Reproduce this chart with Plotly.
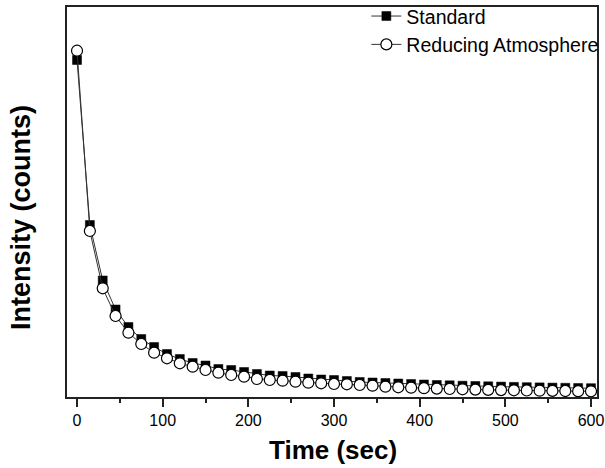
import plotly.graph_objects as go

time_sec = [0, 15, 30, 45, 60, 75, 90, 105, 120, 135, 150, 165, 180, 195, 210, 225,
            240, 255, 270, 285, 300, 315, 330, 345, 360, 375, 390, 405, 420, 435,
            450, 465, 480, 495, 510, 525, 540, 555, 570, 585, 600]

standard = [337, 172, 116.5, 87.5, 70, 58, 50, 43, 38, 34, 31.5, 28, 27, 25, 23, 21.5,
            21, 20, 18.5, 17.5, 17, 16, 15, 14.5, 14, 13.5, 13, 12.5, 12, 11.7,
            11.3, 11, 10.7, 10.4, 10.1, 9.8, 9.6, 9.4, 9.2, 9.0, 8.8]

reducing = [346.3, 166, 108.7, 81, 64.3, 53, 44.3, 38.7, 33.7, 30.3, 27, 24.3, 22, 20.3, 18, 17,
            16.3, 15.3, 14.3, 13.7, 13, 12.7, 12, 11.3, 10.3, 9.7, 9.3, 8.8, 8.4, 8.0,
            7.7, 7.4, 7.1, 6.9, 6.7, 6.5, 6.3, 6.1, 6.0, 5.8, 5.7]

x_tick_vals = [0, 100, 200, 300, 400, 500, 600]
x_tick_text = ["0", "100", "200", "300", "400", "500", "600"]

FONT = "Liberation Sans, Arial, sans-serif"

fig = go.Figure()
fig.add_trace(go.Scatter(
    x=time_sec, y=standard, name="Standard", mode="lines+markers",
    line=dict(color="#333333", width=1),
    marker=dict(symbol="square", size=9, color="#000000",
                line=dict(color="#000000", width=0.5)),
))
fig.add_trace(go.Scatter(
    x=time_sec, y=reducing, name="Reducing Atmosphere", mode="lines+markers",
    line=dict(color="#333333", width=1),
    marker=dict(symbol="circle", size=11, color="#ffffff",
                line=dict(color="#000000", width=1.2)),
))

fig.update_layout(
    width=605, height=468,
    margin=dict(l=67, r=8, t=7, b=71, autoexpand=False),
    paper_bgcolor="white", plot_bgcolor="white",
    font=dict(family=FONT, color="#000000"),
    showlegend=True,
    legend=dict(x=1.012, xanchor="right", y=1.026, yanchor="top",
                bgcolor="rgba(0,0,0,0)", font=dict(size=19.5, family=FONT),
                tracegroupgap=0, itemwidth=30),
    xaxis=dict(range=[-11.7, 607], tickvals=x_tick_vals, ticktext=x_tick_text,
               ticks="outside", ticklen=8, tickwidth=1.5, tickcolor="#222222",
               tickfont=dict(size=16, family=FONT),
               minor=dict(dtick=50, tick0=0, ticks="outside", ticklen=4, tickwidth=1.5,
                          tickcolor="#222222", showgrid=False),
               showline=True, linecolor="#222222", linewidth=2, mirror=True,
               showgrid=False, zeroline=False),
    yaxis=dict(range=[0, 390], showticklabels=False, ticks="",
               showline=True, linecolor="#222222", linewidth=2, mirror=True,
               showgrid=False, zeroline=False),
    annotations=[
        dict(text="<b>Time (sec)</b>", xref="paper", yref="paper",
             x=(333 - 67) / 530, y=(397 - 450) / 390, xanchor="center", yanchor="middle",
             showarrow=False, font=dict(size=26, family=FONT)),
        dict(text="<b>Intensity (counts)</b>", xref="paper", yref="paper",
             x=(21 - 67) / 530, y=(397 - 218) / 390, xanchor="center", yanchor="middle",
             textangle=-90, showarrow=False, font=dict(size=27, family=FONT)),
    ],
)

fig.write_html("out.html", config={"displayModeBar": False},
               post_script="document.body.style.margin='0';")
